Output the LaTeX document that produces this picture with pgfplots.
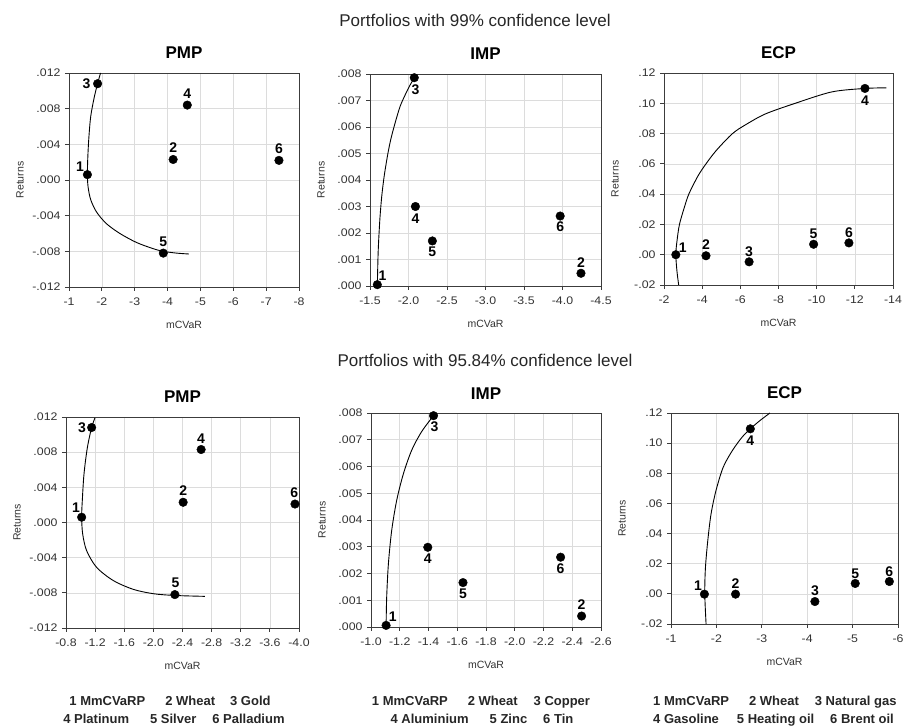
\documentclass[border=0pt]{standalone}
\usepackage{pgfplots}
\pgfplotsset{compat=1.18}
\usepackage{fontspec}
\setmainfont{Liberation Sans}
\newfontfamily\tickfont[FakeStretch=1.12]{Liberation Sans}
\definecolor{gridc}{RGB}{220,220,220}
\definecolor{framec}{RGB}{60,60,60}
\definecolor{tickc}{RGB}{50,50,50}
\pgfplotsset{
  myaxis/.style={
    scale only axis,
    x dir=reverse,
    scaled ticks=false,
    axis line style={framec, line width=0.8pt},
    grid=major, major grid style={gridc, line width=0.6pt},
    tick align=outside, xtick pos=bottom, ytick pos=left,
    major tick length=4pt, tick style={framec, line width=0.8pt},
    ticklabel style={font=\tickfont\fontsize{11}{12}\selectfont, text=tickc},
    xticklabel style={yshift=-3pt},
    yticklabel style={xshift=-1pt},
    xlabel={mCVaR}, ylabel={Returns},
    label style={font=\fontsize{10.5}{11}\selectfont, text=tickc},
    xlabel style={at={(axis description cs:0.5,0)}, anchor=center, yshift=-38pt},
    ylabel style={at={(axis description cs:0,0.5)}, anchor=center, yshift=49pt},
    title style={at={(axis description cs:0.5,1)}, anchor=base, inner sep=0pt, yshift=8pt, font=\fontsize{17}{17}\selectfont\bfseries},
  },
  frontier/.style={black, line width=0.9pt, smooth, tension=0.5, mark=none},
  pts/.style={only marks, mark=*, mark size=4.3pt, mark options={fill=black, draw=black},
    nodes near coords={\pgfplotspointmeta}, point meta=explicit symbolic,
    visualization depends on={value \thisrow{dx}\as\labdx},
    visualization depends on={value \thisrow{dy}\as\labdy},
    every node near coord/.append style={anchor=center, xshift=\labdx pt, yshift=\labdy pt,
      font=\fontsize{14}{14}\selectfont\bfseries, text=black, inner sep=0pt}},
  pmpy/.style={ymin=-0.012, ymax=0.012, ytick={-0.012,-0.008,-0.004,0,0.004,0.008,0.012},
    yticklabels={-.012,-.008,-.004,.000,.004,.008,.012}},
  impy/.style={ymin=0, ymax=0.008, ytick={0,0.001,0.002,0.003,0.004,0.005,0.006,0.007,0.008},
    yticklabels={.000,.001,.002,.003,.004,.005,.006,.007,.008}},
  ecpy/.style={ymin=-0.02, ymax=0.12, ytick={-0.02,0,0.02,0.04,0.06,0.08,0.10,0.12},
    yticklabels={-.02,.00,.02,.04,.06,.08,.10,.12}},
}
\begin{document}
\begin{tikzpicture}
\useasboundingbox (0,0) rectangle (905pt,728pt);
\node[font=\fontsize{17}{17}\selectfont, text=black!85] at (475pt,708pt) {Portfolios with 99\% confidence level};
\node[font=\fontsize{17}{17}\selectfont, text=black!85] at (485pt,368pt) {Portfolios with 95.84\% confidence level};

% ---------- Top PMP ----------
\begin{axis}[myaxis, pmpy, at={(69pt,441pt)}, anchor=south west, width=230pt, height=214pt,
  title={PMP}, xmin=-8, xmax=-1, xtick={-1,-2,-3,-4,-5,-6,-7,-8},
  xticklabels={-1,-2,-3,-4,-5,-6,-7,-8}]
\addplot[frontier] coordinates {(-1.96,0.0120) (-1.87,0.0108) (-1.77,0.0093) (-1.66,0.0071) (-1.60,0.0045) (-1.57,0.0023) (-1.56,0.0006) (-1.58,-0.00075) (-1.66,-0.0022) (-1.84,-0.0036) (-2.14,-0.0049) (-2.55,-0.0060) (-3.05,-0.0070) (-3.56,-0.0077) (-3.87,-0.0080) (-4.27,-0.0082) (-4.65,-0.0083)};
\addplot[pts] table[meta=lab] {
x y lab dx dy
-1.56 0.0006 1 -7.3 8
-4.17 0.0023 2 0 11.5
-1.87 0.0108 3 -11 0
-4.60 0.0084 4 0 11.5
-3.87 -0.0082 5 0 11.5
-7.39 0.0022 6 0 11.5
};
\end{axis}

% ---------- Top IMP ----------
\begin{axis}[myaxis, impy, at={(370pt,442pt)}, anchor=south west, width=231pt, height=212pt,
  title={IMP}, xmin=-4.5, xmax=-1.5, xtick={-1.5,-2,-2.5,-3,-3.5,-4,-4.5},
  xticklabels={-1.5,-2.0,-2.5,-3.0,-3.5,-4.0,-4.5}]
\addplot[frontier] coordinates {(-1.595,0.0) (-1.604,0.0011) (-1.613,0.00174) (-1.63,0.0026) (-1.652,0.00337) (-1.682,0.0041) (-1.725,0.00488) (-1.768,0.00551) (-1.825,0.00614) (-1.89,0.00677) (-1.955,0.0072) (-2.02,0.00758) (-2.078,0.00786)};
\addplot[pts] table[meta=lab] {
x y lab dx dy
-1.595 0.00005 1 5.3 8.7
-4.24 0.00048 2 0 11
-2.075 0.00786 3 1.3 -11.5
-2.09 0.0030 4 0 -12
-2.31 0.0017 5 0 -11
-3.97 0.00264 6 0 -11
};
\end{axis}

% ---------- Top ECP ----------
\begin{axis}[myaxis, ecpy, at={(664pt,443pt)}, anchor=south west, width=229pt, height=212pt,
  title={ECP}, xmin=-14, xmax=-2, xtick={-2,-4,-6,-8,-10,-12,-14},
  xticklabels={-2,-4,-6,-8,-10,-12,-14}]
\addplot[frontier] coordinates {(-2.78,-0.021) (-2.68,-0.011) (-2.62,0.0) (-2.68,0.009) (-2.81,0.02) (-3.06,0.031) (-3.30,0.040) (-3.78,0.052) (-4.20,0.060) (-4.75,0.069) (-5.59,0.080) (-6.30,0.086) (-7.32,0.093) (-8.88,0.100) (-10.79,0.1075) (-12.53,0.1098) (-13.65,0.1102)};
\addplot[pts] table[meta=lab] {
x y lab dx dy
-2.62 0.0 1 7 6.7
-4.20 -0.0007 2 0 11.5
-6.46 -0.0047 3 0 10.5
-12.53 0.1098 4 0 -12
-9.84 0.0069 5 0 10.5
-11.69 0.0078 6 0 10.5
};
\end{axis}

% ---------- Bottom PMP ----------
\begin{axis}[myaxis, pmpy, at={(66pt,100pt)}, anchor=south west, width=233pt, height=211pt,
  title={PMP}, xmin=-4.0, xmax=-0.8, xtick={-0.8,-1.2,-1.6,-2.0,-2.4,-2.8,-3.2,-3.6,-4.0},
  xticklabels={-0.8,-1.2,-1.6,-2.0,-2.4,-2.8,-3.2,-3.6,-4.0}]
\addplot[frontier] coordinates {(-1.198,0.0119) (-1.152,0.0108) (-1.093,0.0085) (-1.047,0.0055) (-1.024,0.0025) (-1.015,0.0006) (-1.029,-0.0013) (-1.083,-0.0032) (-1.22,-0.0051) (-1.449,-0.0066) (-1.723,-0.0076) (-2.0,-0.0081) (-2.295,-0.0083) (-2.706,-0.0084)};
\addplot[pts] table[meta=lab] {
x y lab dx dy
-1.015 0.0006 1 -5.7 10
-2.409 0.0023 2 0 11.5
-1.152 0.0108 3 -9.7 0
-2.656 0.0083 4 0 11
-2.295 -0.0082 5 0.7 11.5
-3.945 0.0021 6 -0.7 11
};
\end{axis}

% ---------- Bottom IMP ----------
\begin{axis}[myaxis, impy, at={(371pt,101pt)}, anchor=south west, width=230pt, height=214pt,
  title={IMP}, xmin=-2.6, xmax=-1.0, xtick={-1.0,-1.2,-1.4,-1.6,-1.8,-2.0,-2.2,-2.4,-2.6},
  xticklabels={-1.0,-1.2,-1.4,-1.6,-1.8,-2.0,-2.2,-2.4,-2.6}]
\addplot[frontier] coordinates {(-1.105,0.0) (-1.109,0.0011) (-1.121,0.00236) (-1.144,0.00361) (-1.179,0.00474) (-1.226,0.00574) (-1.284,0.00662) (-1.353,0.00731) (-1.435,0.0079)};
\addplot[pts] table[meta=lab] {
x y lab dx dy
-1.105 0.00006 1 6.7 8.3
-2.465 0.00041 2 0 11
-1.435 0.0079 3 1 -10.7
-1.395 0.00298 4 0 -11.3
-1.64 0.00166 5 0 -10.7
-2.319 0.00261 6 0 -11
};
\end{axis}

% ---------- Bottom ECP ----------
\begin{axis}[myaxis, ecpy, at={(671pt,104pt)}, anchor=south west, width=227pt, height=211pt,
  title={ECP}, xmin=-6, xmax=-1, xtick={-1,-2,-3,-4,-5,-6},
  xticklabels={-1,-2,-3,-4,-5,-6}]
\addplot[frontier] coordinates {(-1.773,-0.0203) (-1.744,0.0) (-1.758,0.0171) (-1.809,0.035) (-1.881,0.0528) (-1.989,0.0683) (-2.148,0.0839) (-2.35,0.095) (-2.567,0.104) (-2.747,0.1095) (-2.964,0.1151) (-3.18,0.12)};
\addplot[pts] table[meta=lab] {
x y lab dx dy
-1.736 -0.0002 1 -6.3 8.7
-2.422 -0.0002 2 0 11
-4.17 -0.0051 3 0 10.7
-2.747 0.1095 4 0 -12
-5.058 0.0069 5 0 9.5
-5.81 0.0082 6 0 10
};
\end{axis}

% ---------- Legends ----------
\begin{scope}[every node/.style={font=\fontsize{13}{13}\selectfont\bfseries, text=black!85, inner sep=0pt, anchor=base}]
\node at (170pt,22pt) {1 MmCVaRP\hspace{20pt}2 Wheat\hspace{15pt}3 Gold};
\node at (174pt,4pt) {4 Platinum\hspace{21pt}5 Silver\hspace{16pt}6 Palladium};
\node at (481pt,22pt) {1 MmCVaRP\hspace{20pt}2 Wheat\hspace{16pt}3 Copper};
\node at (482pt,4pt) {4 Aluminium\hspace{21pt}5 Zinc\hspace{16pt}6 Tin};
\node[anchor=base west] at (653pt,22pt) {1 MmCVaRP\hspace{20pt}2 Wheat\hspace{16pt}3 Natural gas};
\node[anchor=base west] at (653pt,4pt) {4 Gasoline\hspace{18pt}5 Heating oil\hspace{16pt}6 Brent oil};
\end{scope}
\end{tikzpicture}
\end{document}
